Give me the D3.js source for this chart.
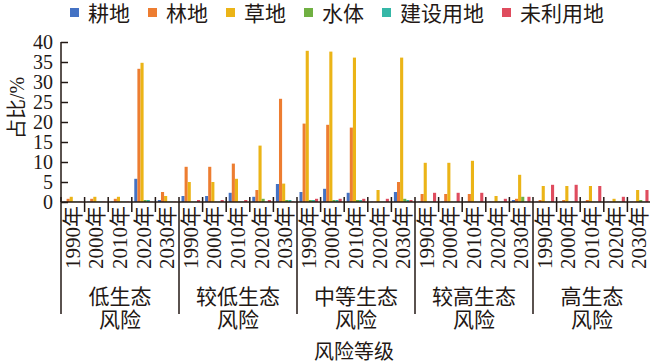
<!DOCTYPE html>
<html>
<head>
<meta charset="utf-8">
<script src="https://cdn.jsdelivr.net/npm/d3@7"></script>
<style>
  body { margin: 0; background: #fff; }
  text { font-family: "Liberation Serif", "Noto Sans CJK SC", serif; fill: #231815; }
</style>
</head>
<body>
<script>
// categories
var groups = ['低生态\n风险', '较低生态\n风险', '中等生态\n风险', '较高生态\n风险', '高生态\n风险'];
var years = ['1990年', '2000年', '2010年', '2020年', '2030年'];
var landTypes = ['耕地', '林地', '草地', '水体', '建设用地', '未利用地'];
var colors = ['#4472c4', '#ed7d31', '#ebb417', '#70b042', '#35b7a7', '#df4c5e'];
var yTicks = [0, 5, 10, 15, 20, 25, 30, 35, 40];

// values (%), order: group x year
var gengdi   = [0.1,0.1,0.1,5.8,0.5, 1.5,1.5,2.3,1.3,4.5, 2.5,3.3,2.3,0.1,2.5, 0.1,0.1,0.1,0.1,0.5, 0.1,0.1,0.1,0.1,0.1];
var lindi    = [0.8,0.8,0.8,33.3,2.5, 8.8,8.8,9.6,3.0,25.8, 19.6,19.3,18.6,0.1,5.0, 2.0,2.0,2.0,0.1,0.8, 0.5,0.5,0.5,0.1,0.1];
var caodi    = [1.3,1.3,1.3,34.8,1.5, 5.0,5.0,5.8,14.1,4.6, 37.8,37.6,36.1,3.0,36.1, 9.8,9.8,10.3,1.5,6.8, 4.0,4.0,4.0,0.8,3.0];
var shuiti   = [0.1,0.1,0.1,0.5,0.1, 0.1,0.1,0.1,0.8,0.5, 0.5,0.5,0.5,0.1,0.8, 0.1,0.1,0.1,0.1,1.3, 0.1,0.1,0.1,0.1,0.5];
var jianshe  = [0.1,0.1,0.1,0.5,0.1, 0.1,0.1,0.1,0.1,0.5, 0.5,0.5,0.5,0.1,0.5, 0.1,0.1,0.1,0.1,0.1, 0.1,0.1,0.1,0.1,0.1];
var weiliyong= [0.1,0.1,0.1,0.1,0.1, 0.5,0.5,0.5,0.5,0.1, 0.8,0.8,0.8,0.8,0.5, 2.3,2.3,2.3,0.8,1.3, 4.3,4.3,4.0,1.3,3.0];
var series = [gengdi, lindi, caodi, shuiti, jianshe, weiliyong];

var width = 650, height = 364;
var x0 = 61, x1 = 651, yBase = 202, yTop = 42;

var svg = d3.select('body').append('svg')
  .attr('width', width).attr('height', height);

var cells = [];
groups.forEach(function (g, gi) {
  years.forEach(function (yr, yi) { cells.push(gi + '|' + yi); });
});

var xCell = d3.scaleBand().domain(cells).range([x0, x1]);
var xBar = d3.scaleBand().domain(landTypes).range([0, xCell.bandwidth()]).paddingOuter(0.8);
var y = d3.scaleLinear().domain([0, 40]).range([yBase, yTop]);

// bars
series.forEach(function (vals, si) {
  svg.append('g').selectAll('rect')
    .data(vals)
    .enter().append('rect')
      .attr('x', function (d, i) { return xCell(cells[i]) + xBar(landTypes[si]); })
      .attr('y', function (d) { return y(d); })
      .attr('width', xBar.bandwidth())
      .attr('height', function (d) { return yBase - y(d); })
      .attr('fill', colors[si]);
});

// y axis
var yAxis = d3.axisRight(y).tickValues(yTicks).tickSize(7).tickFormat('');
var yg = svg.append('g').attr('transform', 'translate(' + x0 + ',0)').call(yAxis);
yg.select('.domain').attr('stroke', '#231815').attr('stroke-width', 1.5).attr('d', 'M0,' + yTop + 'V' + yBase);
yg.selectAll('.tick line').attr('stroke', '#231815').attr('stroke-width', 1.5);

svg.append('g').selectAll('text')
  .data(yTicks)
  .enter().append('text')
    .attr('x', 53)
    .attr('y', function (d) { return y(d); })
    .attr('dy', '0.34em')
    .attr('text-anchor', 'end')
    .style('font-size', '20px')
    .text(function (d) { return d; });

svg.append('text')
  .attr('transform', 'translate(24,108) rotate(-90)')
  .attr('text-anchor', 'middle')
  .style('font-size', '20px')
  .text('占比/%');

// x axis line
svg.append('line')
  .attr('x1', x0).attr('x2', x1).attr('y1', yBase).attr('y2', yBase)
  .attr('stroke', '#231815').attr('stroke-width', 1.5);

// year separators
svg.append('g').selectAll('line')
  .data(cells.filter(function (c, i) { return i % 5 !== 0; }))
  .enter().append('line')
    .attr('x1', function (c) { return xCell(c); })
    .attr('x2', function (c) { return xCell(c); })
    .attr('y1', 197).attr('y2', 212)
    .attr('stroke', '#231815').attr('stroke-width', 1.5);

// group separators
svg.append('g').selectAll('line')
  .data(groups)
  .enter().append('line')
    .attr('x1', function (g, gi) { return xCell(gi + '|0'); })
    .attr('x2', function (g, gi) { return xCell(gi + '|0'); })
    .attr('y1', 197).attr('y2', 314)
    .attr('stroke', '#231815').attr('stroke-width', 1.5);

// year labels
svg.append('g').selectAll('text')
  .data(cells)
  .enter().append('text')
    .attr('transform', function (c) {
      var cx = xCell(c) + xCell.bandwidth() / 2;
      return 'translate(' + (cx + 7) + ',206) rotate(-90)';
    })
    .attr('text-anchor', 'end')
    .style('font-size', '21px')
    .text(function (c) { return years[+c.split('|')[1]]; });

// group labels
var gl = svg.append('g').selectAll('text')
  .data(groups)
  .enter().append('text')
    .attr('text-anchor', 'middle')
    .style('font-size', '21px');
gl.each(function (g, gi) {
  var cx = xCell(gi + '|2') + xCell.bandwidth() / 2;
  var lines = g.split('\n');
  var t = d3.select(this);
  lines.forEach(function (ln, li) {
    t.append('tspan').attr('x', cx).attr('y', 304 + li * 23).text(ln);
  });
});

svg.append('text')
  .attr('x', 354).attr('y', 359)
  .attr('text-anchor', 'middle')
  .style('font-size', '20px')
  .text('风险等级');

// legend
var lx = 70;
landTypes.forEach(function (name, i) {
  svg.append('rect').attr('x', lx).attr('y', 8).attr('width', 9).attr('height', 9).attr('fill', colors[i]);
  var t = svg.append('text').attr('x', lx + 18).attr('y', 13).attr('dy', '0.36em')
    .style('font-size', '21px').text(name);
  lx += 18 + t.node().getComputedTextLength() + 18;
});
</script>
</body>
</html>
